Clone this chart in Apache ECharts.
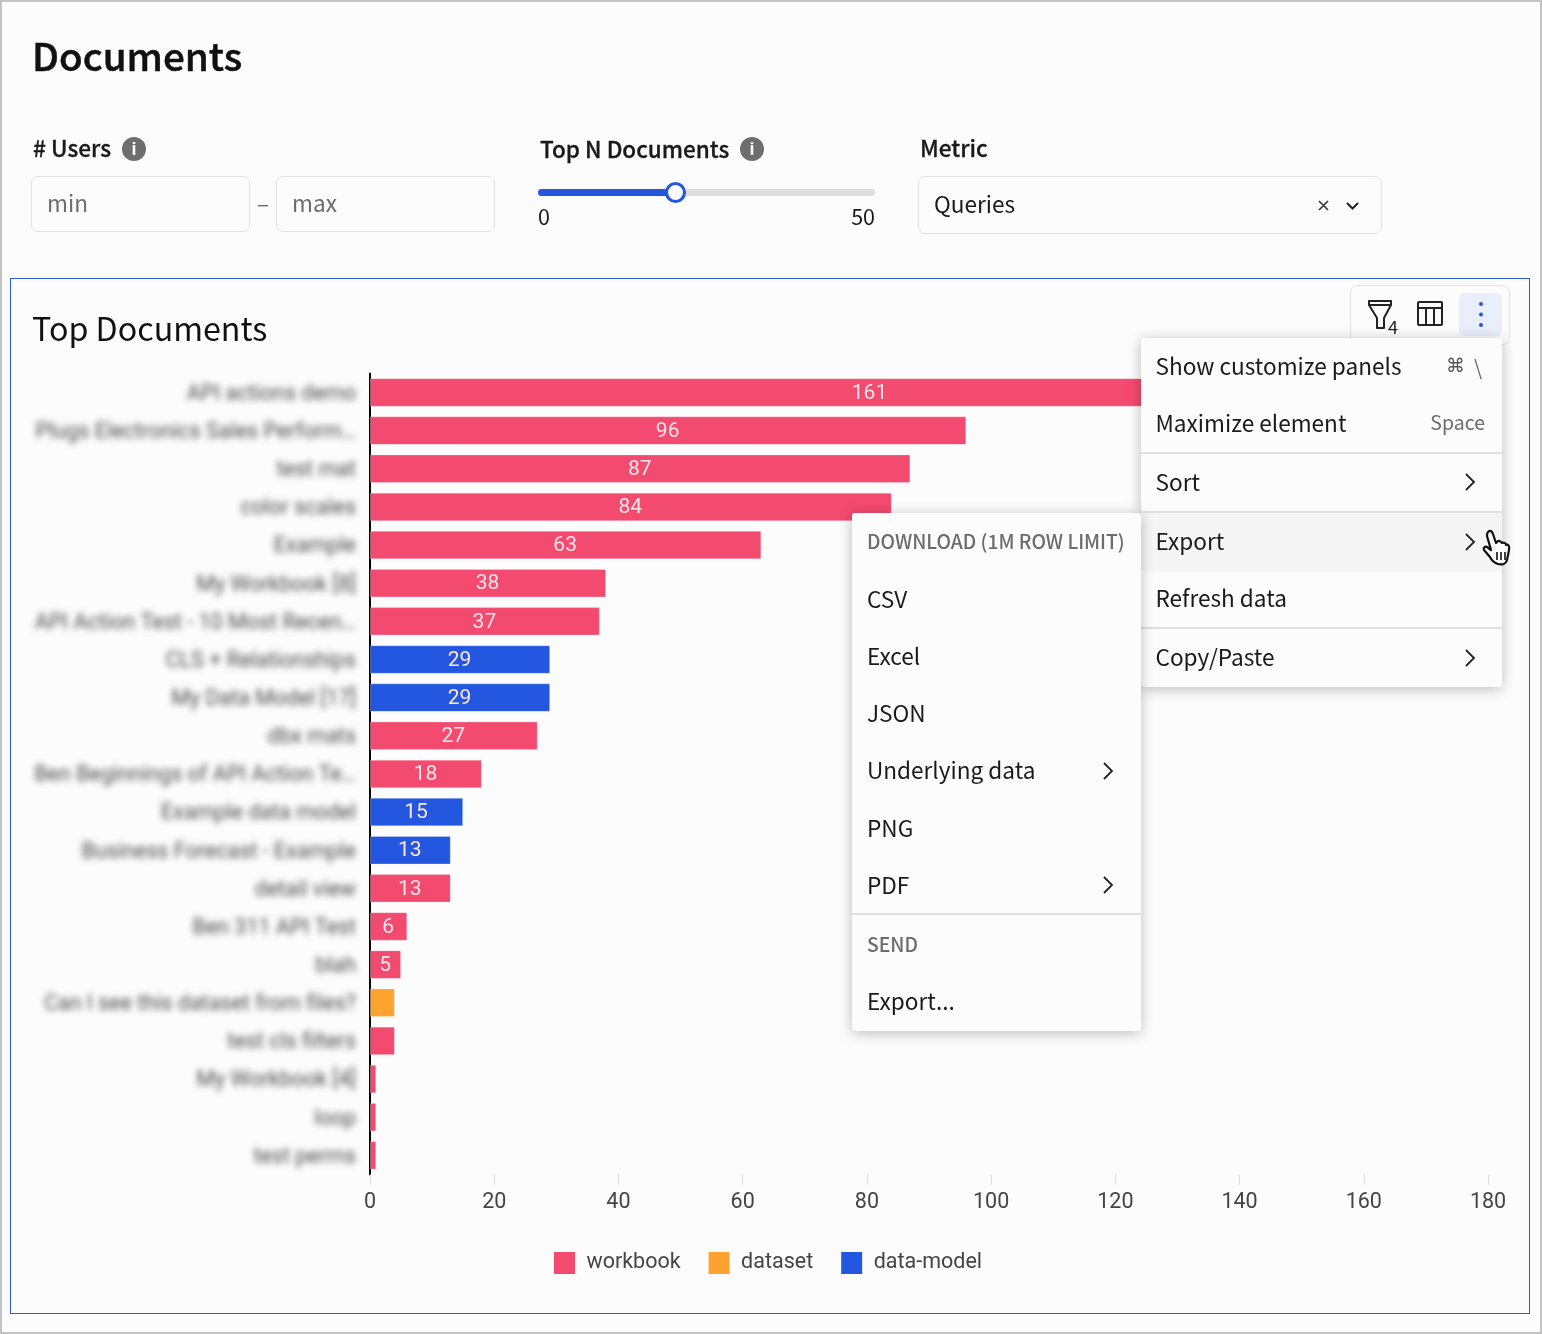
<!DOCTYPE html>
<html>
<head>
<meta charset="utf-8">
<title>Documents</title>
<script src="https://cdn.jsdelivr.net/npm/echarts@6/dist/echarts.min.js"></script>
<style>
  html, body { margin: 0; padding: 0; background: #fcfcfc; }
  #page { position: relative; width: 1542px; height: 1334px; overflow: hidden; background: #fcfcfc;
    font-family: "Noto Sans CJK SC", "Noto Sans", sans-serif; color: #1a1a1a; }
  #page > * { position: absolute; }
  #frame { left: 0; top: 0; width: 1538px; height: 1330px; border: 2px solid #c4c4c4; }
  #panel { left: 10px; top: 278px; width: 1518px; height: 1034px; border: 1px solid #2a5bda; }
  #labelChart, #mainChart { left: 0; top: 0; width: 1542px; height: 1334px; }
  #labelChart { top: 2px; filter: blur(3.2px); }
  .t { position: absolute; white-space: nowrap; line-height: 30px; height: 30px; margin-top: -15px; font-size: 22.6px; }
  .strong { font-weight: 500; -webkit-text-stroke: 0.3px #1a1a1a; }
  .box { border: 1px solid #e2e2e2; border-radius: 7px; box-sizing: border-box; }
  .info { width: 24px; height: 24px; border-radius: 50%; background: #6e6e6e; color: #fcfcfc; margin-top: -12px;
    font: bold 18px/24px "Liberation Sans", sans-serif; text-align: center; position: absolute; }
  .menu { position: absolute; background: #fcfcfc; border-radius: 3px; box-shadow: 0 2px 14px rgba(0,0,0,0.26); }
  .rule { position: absolute; left: 0; right: 0; height: 2px; background: #e0e0e0; }
  .grey { color: #6c6c6c; }
  .head { font-size: 19.300px; font-weight: 500; }
  svg { position: absolute; overflow: visible; }
</style>
</head>
<body>
<div id="page">
  <div id="frame"></div>
  <div id="panel"></div>
  <div id="labelChart"></div>
  <div id="mainChart"></div>

  <div class="t" style="left:32px;top:54px;font-size:38.600px;font-weight:500;-webkit-text-stroke:0.5px #111;line-height:50px;height:50px;margin-top:-25px;color:#111">Documents</div>

  <div class="t strong" style="left:33px;top:148px"># Users</div>
  <div class="info" style="left:122px;top:149px">i</div>
  <div class="box" style="left:31px;top:176px;width:219px;height:56px"></div>
  <div class="t grey" style="left:47px;top:203px">min</div>
  <div class="t grey" style="left:257px;top:203px">–</div>
  <div class="box" style="left:276px;top:176px;width:219px;height:56px"></div>
  <div class="t grey" style="left:292px;top:203px">max</div>

  <div class="t strong" style="left:540px;top:148px;font-size:22.500px">Top N Documents</div>
  <div class="info" style="left:740px;top:149px">i</div>
  <div style="left:538px;top:189px;width:337px;height:7px;border-radius:4px;background:#dedede"></div>
  <div style="left:538px;top:189px;width:137px;height:7px;border-radius:4px;background:#2357e0"></div>
  <div style="left:665px;top:182px;width:15px;height:15px;border:3px solid #2357e0;border-radius:50%;background:#fcfcfc"></div>
  <div class="t" style="left:538px;top:216px;font-size:21.500px">0</div>
  <div class="t" style="right:667px;top:216px;font-size:21.500px">50</div>

  <div class="t strong" style="left:920px;top:148px">Metric</div>
  <div class="box" style="left:918px;top:176px;width:464px;height:58px"></div>
  <div class="t" style="left:934px;top:204px">Queries</div>
  <svg style="left:1318px;top:200px" width="11" height="11"><path d="M1 1 L10 10 M10 1 L1 10" stroke="#333" stroke-width="1.6" fill="none"/></svg>
  <svg style="left:1346px;top:202px" width="13" height="8"><path d="M1 1 L6.5 6.5 L12 1" stroke="#222" stroke-width="2" fill="none"/></svg>

  <div class="t" style="left:32px;top:327px;font-size:32.200px;line-height:44px;height:44px;margin-top:-22px;color:#111">Top Documents</div>

  <div class="box" style="left:1350px;top:285px;width:160px;height:60px"></div>
  <svg style="left:1368px;top:300px" width="32" height="34">
    <path d="M1 1 H23 V5 L16 18 V28 H9 V18 L1 5 Z M1 5 H23" stroke="#222" stroke-width="2" fill="none" stroke-linejoin="round"/>
  </svg>
  <div class="t" style="left:1388px;top:326px;font-size:18px;color:#222">4</div>
  <svg style="left:1417px;top:301px" width="26" height="26">
    <path d="M2 1 H24 Q25 1 25 2 V23 Q25 24 24 24 H2 Q1 24 1 23 V2 Q1 1 2 1 Z M1 7 H25 M9 7 V24 M17 7 V24" stroke="#222" stroke-width="2" fill="none"/>
  </svg>
  <div style="left:1459px;top:293px;width:43px;height:43px;border-radius:6px;background:#e9eefb"></div>
  <svg style="left:1476px;top:300px" width="10" height="30">
    <circle cx="5" cy="4" r="2" fill="#2357e0"/><circle cx="5" cy="14.500" r="2" fill="#2357e0"/><circle cx="5" cy="25" r="2" fill="#2357e0"/>
  </svg>

  <div class="menu" style="left:1141px;top:338px;width:361px;height:349px">
    <div class="t" style="left:14.500px;top:28px">Show customize panels</div>
    <div class="t" style="left:305px;top:27px;font-size:19px;font-family:'DejaVu Sans';color:#555">⌘</div>
    <div class="t grey" style="left:333px;top:27.500px;font-size:20.500px">\</div>
    <div class="t" style="left:14.500px;top:85px">Maximize element</div>
    <div class="t grey" style="right:17px;top:84px;font-size:19.500px">Space</div>
    <div class="rule" style="top:114px"></div>
    <div class="t" style="left:14.500px;top:144px">Sort</div>
    <svg style="left:324px;top:135px" width="10" height="18"><path d="M1 1 L9 9 L1 17" stroke="#222" stroke-width="1.800" fill="none"/></svg>
    <div style="position:absolute;left:0;right:0;top:174px;height:59px;background:#f5f5f5"></div>
    <div class="rule" style="top:173px"></div>
    <div class="t" style="left:14.500px;top:203px">Export</div>
    <svg style="left:324px;top:195px" width="10" height="18"><path d="M1 1 L9 9 L1 17" stroke="#222" stroke-width="1.800" fill="none"/></svg>
    <div class="t" style="left:14.500px;top:260px">Refresh data</div>
    <div class="rule" style="top:289px"></div>
    <div class="t" style="left:14.500px;top:319px">Copy/Paste</div>
    <svg style="left:324px;top:311px" width="10" height="18"><path d="M1 1 L9 9 L1 17" stroke="#222" stroke-width="1.800" fill="none"/></svg>
  </div>

  <div class="menu" style="left:852px;top:513px;width:289px;height:518px">
    <div class="t grey head" style="left:15px;top:28px">DOWNLOAD (1M ROW LIMIT)</div>
    <div class="t" style="left:15px;top:86px">CSV</div>
    <div class="t" style="left:15px;top:143px">Excel</div>
    <div class="t" style="left:15px;top:200px">JSON</div>
    <div class="t" style="left:15px;top:257px">Underlying data</div>
    <svg style="left:251px;top:249px" width="10" height="18"><path d="M1 1 L9 9 L1 17" stroke="#222" stroke-width="1.800" fill="none"/></svg>
    <div class="t" style="left:15px;top:315px">PNG</div>
    <div class="t" style="left:15px;top:372px">PDF</div>
    <svg style="left:251px;top:363px" width="10" height="18"><path d="M1 1 L9 9 L1 17" stroke="#222" stroke-width="1.800" fill="none"/></svg>
    <div class="rule" style="top:400px"></div>
    <div class="t grey head" style="left:15px;top:431px">SEND</div>
    <div class="t" style="left:15px;top:488px">Export...</div>
  </div>

  <svg style="left:1482px;top:530px" width="30" height="36">
    <path d="M6 2 C8 0 10 1 11 4 L14 13 L16 11 C18 10 19 12 20 13 C22 12 24 13 24 15 C26 14 28 16 27 20 L25 30 C24 34 20 35 16 34 C12 33 10 31 8 27 L2 20 C1 18 3 16 5 17 L9 20 L5 6 C5 4 5 3 6 2 Z"
      fill="#fcfcfc" stroke="#111" stroke-width="2.2" stroke-linejoin="round"/>
    <path d="M15 22 V30 M19 22 V30 M23 22 V30" stroke="#111" stroke-width="1.600"/>
  </svg>
</div>

<script>
// chart data
var categories = [
  'API actions demo', 'Plugs Electronics Sales Perform…', 'test mat', 'color scales', 'Example',
  'My Workbook [8]', 'API Action Test - 10 Most Recen…', 'CLS + Relationships', 'My Data Model [17]',
  'dbx mats', 'Ben Beginnings of API Action Te…', 'Example data model', 'Business Forecast - Example',
  'detail view', 'Ben 311 API Test', 'blah', 'Can I see this dataset from files?', 'test cls filters',
  'My Workbook [4]', 'loop', 'test perms'
];
var values = [161, 96, 87, 84, 63, 38, 37, 29, 29, 27, 18, 15, 13, 13, 6, 5, 4, 4, 1, 1, 1];
var kinds = [
  'workbook', 'workbook', 'workbook', 'workbook', 'workbook', 'workbook', 'workbook',
  'data-model', 'data-model', 'workbook', 'workbook', 'data-model', 'data-model', 'workbook',
  'workbook', 'workbook', 'dataset', 'workbook', 'workbook', 'workbook', 'workbook'
];
var kindNames = ['workbook', 'dataset', 'data-model'];
var kindColors = ['#f34a6f', '#ffa230', '#2357e0'];

var gridBox = { left: 370, top: 373.4, width: 1118, height: 801 };

// the names are blurred in the reference, so they sit in their own chart under a css blur
var labelChart = echarts.init(document.getElementById('labelChart'));
labelChart.setOption({
  animation: false,
  grid: gridBox,
  xAxis: { type: 'value', show: false, min: 0, max: 180 },
  yAxis: {
    type: 'category',
    inverse: true,
    data: categories,
    axisLine: { show: false },
    axisTick: { show: false },
    axisLabel: { margin: 14, fontFamily: 'Roboto', fontSize: 21.5, color: '#4a4a4a' }
  },
  series: []
});

var mainChart = echarts.init(document.getElementById('mainChart'));
var series = kindNames.map(function (name, k) {
  return {
    name: name,
    type: 'bar',
    stack: 'docs',
    barWidth: 28.5,
    // pale rim round each bar, same as the original
    itemStyle: { color: kindColors[k], borderColor: 'rgba(255,255,255,0.25)', borderWidth: 1 },
    data: values.map(function (v, i) { return kinds[i] === name ? v : null; }),
    label: {
      show: true,
      position: 'inside',
      offset: [-0.5, 1],
      fontFamily: 'Roboto',
      fontSize: 21,
      color: '#ffe6ea',
      formatter: function (p) { return p.value >= 5 ? p.value : ''; }
    }
  };
});

var option = {
  animation: false,
  grid: gridBox,
  legend: {
    left: 554,
    top: 1252,
    padding: 0,
    itemWidth: 21,
    itemHeight: 22,
    itemGap: 28,
    icon: 'rect',
    itemStyle: { borderWidth: 0 },
    data: kindNames,
    textStyle: { fontFamily: 'Roboto', fontSize: 21.5, color: '#444', padding: [2, 0, 0, 6.5] }
  },
  xAxis: {
    type: 'value',
    min: 0,
    max: 180,
    interval: 20,
    splitLine: { show: false },
    axisLine: { show: false },
    axisTick: { show: true, length: 10, lineStyle: { color: '#dcdcdc', width: 1 } },
    axisLabel: { margin: 17, fontFamily: 'Roboto', fontSize: 21.5, color: '#444' }
  },
  yAxis: {
    type: 'category',
    inverse: true,
    data: categories,
    offset: 1,
    axisLine: { show: true, lineStyle: { color: '#000', width: 2 } },
    axisTick: { show: false },
    axisLabel: { show: false }
  },
  series: series
};
if (option && typeof option === 'object') {
  mainChart.setOption(option);
}
</script>
</body>
</html>
